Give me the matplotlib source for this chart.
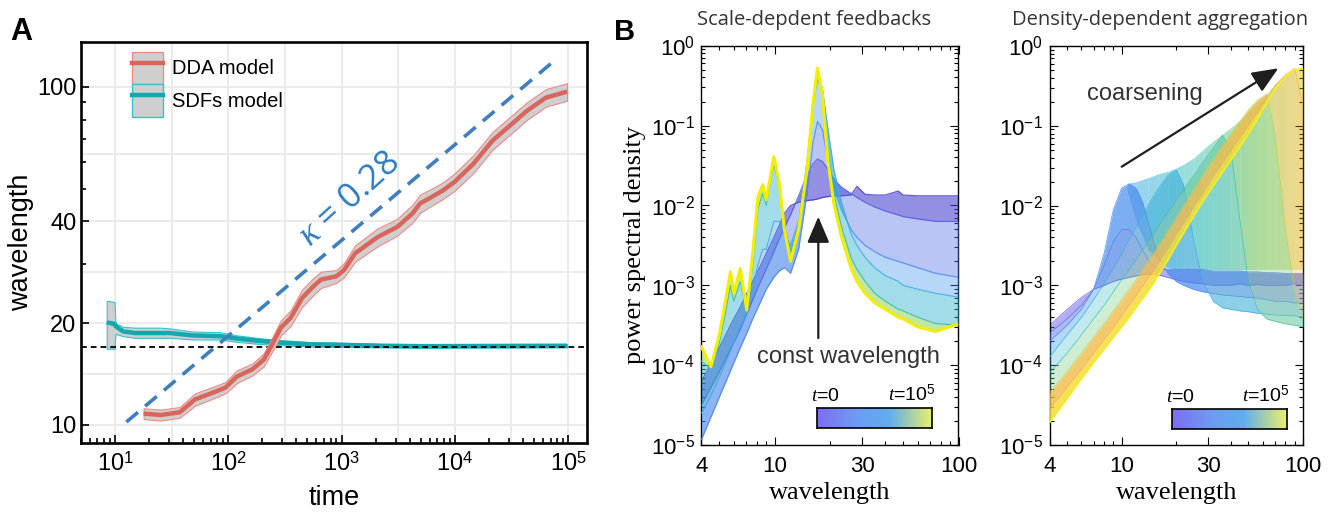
import numpy as np
import matplotlib
matplotlib.use('Agg')
import matplotlib.pyplot as plt
from matplotlib.colors import LinearSegmentedColormap
from matplotlib.patches import Patch, FancyArrowPatch
from matplotlib.lines import Line2D
from matplotlib.ticker import FixedLocator, FixedFormatter, NullFormatter

W, H = 1336, 512

# ---- panel A: wavelength vs time ----
dda_t = [17.9, 25.4, 37.3, 50.9, 75, 94.6, 119, 163, 206, 240, 292, 354, 447, 564, 658,
         897, 1050, 1320, 2100, 3100, 4230, 4940, 6240, 7870, 9930, 14600, 21500, 31800,
         43300, 63800, 98000]
dda_mid = [10.8, 10.7, 10.9, 11.9, 12.5, 12.9, 13.9, 14.6, 15.6, 17.1, 19.4, 20.7, 23.7, 25.7,
           26.9, 27.5, 28.7, 32.2, 36.0, 38.5, 42.2, 45.2, 47.2, 49.4, 52.3, 59.2, 69.3, 77.6,
           84.9, 92.9, 96.8]
dda_lo = [10.4, 10.3, 10.5, 11.4, 12.0, 12.4, 13.3, 14.0, 14.9, 16.3, 18.4, 19.6, 22.3, 24.2,
          25.4, 26.3, 27.3, 30.4, 33.8, 36.3, 39.6, 42.4, 44.5, 46.6, 49.2, 55.6, 65.1, 72.9,
          79.8, 87.4, 91.0]
dda_hi = [11.2, 11.1, 11.3, 12.4, 13.0, 13.4, 14.5, 15.2, 16.3, 17.9, 20.4, 21.8, 25.1, 27.2,
          28.4, 28.7, 30.1, 34.0, 38.2, 40.7, 44.8, 48.0, 50.0, 52.2, 55.4, 62.8, 73.5, 82.3,
          90.0, 98.5, 102.5]

sdf_t = [8.45, 9.9, 10.1, 11.8, 15, 25, 30.5, 48, 84.5, 120, 191, 300, 525, 1000, 2300, 5000, 98000]
sdf_mid = [20.1, 19.9, 19.6, 18.9, 18.7, 18.7, 18.7, 18.4, 18.3, 18.0, 17.7, 17.5, 17.3, 17.25,
           17.15, 17.1, 17.15]
sdf_lo = [16.8, 16.8, 18.6, 18.3, 18.1, 18.1, 18.1, 17.9, 17.9, 17.6, 17.35, 17.2, 17.05, 17.0,
          16.95, 16.9, 16.95]
sdf_hi = [23.3, 23.1, 20.0, 19.5, 19.4, 19.4, 19.3, 18.9, 18.8, 18.4, 18.05, 17.8, 17.6, 17.5,
          17.35, 17.3, 17.35]

fit_t = [12.6, 80500]
fit_wl = [10.2, 121.6]
fit_kappa = 0.28
const_wl = 17.0

# ---- panel B: spectra snapshots, log10 of power ----
sdf_grid = [4, 4.5, 5, 5.4, 5.75, 6.0, 6.5, 7.05, 7.6, 8.1, 8.6, 9.0, 9.9, 10.6, 11.3, 12.2,
            13.5, 15, 16.2, 17.1, 18.2, 19.5, 21, 23, 26, 28, 31, 35, 40, 47, 50, 60, 75, 100]
sdf_spectra = [
    [-4.2, -3.98, -3.78, -3.63, -3.5, -3.42, -3.27, -3.1, -2.95, -2.82, -2.7, -2.6, -2.4, -2.25,
     -2.1, -2.0, -1.96, -1.94, -1.93, -1.92, -1.9, -1.89, -1.88, -1.88, -1.87, -1.76, -1.86,
     -1.87, -1.87, -1.82, -1.87, -1.88, -1.88, -1.88],
    [-4.5, -4.28, -4.08, -3.93, -3.8, -3.72, -3.55, -3.36, -3.18, -3.03, -2.9, -2.8, -2.58, -2.42,
     -2.28, -2.12, -1.88, -1.62, -1.48, -1.42, -1.45, -1.55, -1.67, -1.77, -1.85, -1.9, -1.96,
     -2.02, -2.07, -2.12, -2.14, -2.17, -2.2, -2.2],
    [-4.93, -4.65, -4.4, -4.22, -4.07, -3.97, -3.78, -3.6, -3.42, -3.28, -3.15, -3.05, -2.9, -2.82,
     -2.78, -2.85, -2.55, -1.85, -1.2, -0.95, -1.05, -1.45, -1.78, -2.05, -2.3, -2.4, -2.5,
     -2.58, -2.65, -2.7, -2.72, -2.78, -2.85, -2.9],
    [-4.6, -4.38, -4.15, -3.98, -3.82, -3.72, -3.52, -3.35, -3.05, -2.75, -2.55, -2.55, -2.2, -2.2,
     -2.35, -2.5, -2.2, -1.45, -0.75, -0.42, -0.55, -1.05, -1.55, -1.95, -2.35, -2.5, -2.65,
     -2.78, -2.88, -2.95, -3.0, -3.05, -3.1, -3.15],
    [-3.95, -4.05, -3.72, -3.35, -3.0, -3.2, -2.95, -3.35, -2.75, -2.05, -1.85, -2.0, -1.48, -1.75,
     -2.25, -2.6, -2.25, -1.5, -0.75, -0.32, -0.55, -1.3, -1.85, -2.25, -2.65, -2.8, -2.95,
     -3.1, -3.2, -3.3, -3.32, -3.4, -3.48, -3.5],
    [-3.77, -4.02, -3.62, -3.2, -2.83, -3.1, -2.79, -3.31, -2.6, -1.9, -1.74, -1.93, -1.39, -1.72,
     -2.3, -2.7, -2.3, -1.55, -0.7, -0.28, -0.62, -1.45, -1.98, -2.38, -2.78, -2.95, -3.1,
     -3.22, -3.3, -3.4, -3.42, -3.52, -3.58, -3.48],
]
sdf_colors = ['#4434c4', '#5256e0', '#4c84f0', '#3aa8ec', '#2bbcb0', '#f2ee00']
sdf_fill = ['#4c46d2', '#5070e8', '#4496ee', '#32b2ce', '#8ed458']
sdf_alpha = [0.6, 0.4, 0.38, 0.45, 0.55]

dda_grid = [4, 5, 6, 7, 8, 9, 10, 11, 12, 13, 14, 15, 16, 18, 20, 22, 25, 28, 32, 36, 40, 45,
            50, 56, 63, 70, 80, 90, 100]
dda_spectra = [
    [-3.5, -3.3, -3.15, -3.05, -3.0, -2.95, -2.92, -2.9, -2.88, -2.87, -2.86, -2.86, -2.87, -2.9,
     -2.93, -2.95, -2.97, -2.98, -3.0, -3.0, -3.0, -2.98, -3.0, -2.99, -3.0, -3.0, -3.0, -2.98, -3.0],
    [-3.6, -3.42, -3.25, -3.05, -2.75, -2.45, -2.3, -2.3, -2.4, -2.55, -2.68, -2.76, -2.8, -2.8,
     -2.8, -2.8, -2.8, -2.8, -2.82, -2.82, -2.82, -2.82, -2.83, -2.83, -2.84, -2.84, -2.85, -2.85, -2.85],
    [-3.7, -3.5, -3.3, -3.05, -2.6, -2.05, -1.78, -1.73, -1.78, -1.95, -2.2, -2.45, -2.65, -2.85,
     -2.95, -3.0, -3.05, -3.08, -3.1, -3.12, -3.13, -3.14, -3.15, -3.16, -3.18, -3.2, -3.2, -3.22, -3.22],
    [-3.9, -3.62, -3.4, -3.18, -2.98, -2.78, -2.6, -2.42, -2.27, -2.12, -2.0, -1.88, -1.78, -1.62,
     -1.55, -1.75, -2.45, -2.95, -3.2, -3.28, -3.3, -3.32, -3.33, -3.35, -3.36, -3.37, -3.38, -3.38, -3.4],
    [-4.1, -3.85, -3.62, -3.42, -3.25, -3.08, -2.93, -2.8, -2.68, -2.56, -2.45, -2.35, -2.25, -2.08,
     -1.93, -1.8, -1.62, -1.46, -1.28, -1.12, -1.3, -2.2, -2.95, -3.3, -3.42, -3.45, -3.48, -3.5, -3.52],
    [-4.35, -4.08, -3.85, -3.65, -3.48, -3.32, -3.18, -3.05, -2.93, -2.81, -2.7, -2.6, -2.5, -2.32,
     -2.15, -2.0, -1.8, -1.62, -1.42, -1.25, -1.1, -0.94, -0.8, -0.68, -0.6, -1.1, -2.3, -3.1, -3.4],
    [-4.55, -4.28, -4.05, -3.85, -3.68, -3.53, -3.38, -3.25, -3.13, -3.02, -2.91, -2.81, -2.71, -2.53,
     -2.36, -2.21, -2.01, -1.84, -1.63, -1.46, -1.31, -1.14, -0.99, -0.83, -0.66, -0.5, -0.36, -0.28, -0.75],
    [-4.72, -4.42, -4.17, -3.97, -3.8, -3.65, -3.52, -3.4, -3.28, -3.17, -3.07, -2.97, -2.87, -2.68,
     -2.5, -2.34, -2.13, -1.95, -1.75, -1.58, -1.43, -1.26, -1.1, -0.92, -0.72, -0.55, -0.38, -0.3, -0.28],
]
dda_colors = ['#6a54dc', '#5f64ea', '#4b86f2', '#33b2e6', '#3ec4a4', '#b6d84e', '#f3b24e', '#f4ee22']
dda_fill = ['#6460e4', '#5478ee', '#3f9cec', '#38bcc8', '#78cc80', '#f2bc4a', '#f5dc38']
dda_alpha = [0.5, 0.5, 0.4, 0.3, 0.35, 0.8, 0.85]

# upper edge of the hatched region swept by the moving peak, and its floor
dda_env_grid = [10.7, 12, 14, 16, 18, 20, 22, 25, 28, 32, 36, 40, 45, 50, 56, 63, 70, 80, 90, 100]
dda_env_top = [-1.72, -1.7, -1.65, -1.6, -1.57, -1.53, -1.48, -1.4, -1.3, -1.19, -1.1, -1.02,
               -0.93, -0.83, -0.73, -0.6, -0.47, -0.36, -0.29, -0.28]
dda_env_floor = [-1.8, -2.2, -2.55, -2.7, -2.78, -2.8, -2.8, -2.8, -2.8, -2.8, -2.8, -2.8,
                 -2.8, -2.8, -2.8, -2.8, -2.8, -2.8, -2.8, -2.8]

RED = '#d9655c'
RED_EDGE = '#f28a84'
TEAL = '#13a7ae'
TEAL_EDGE = '#2cc6cf'
BAND = '#cfcfcf'
BLUE = '#3f7fbf'

plt.rcParams['font.family'] = ['Liberation Sans', 'DejaVu Sans']
plt.rcParams['mathtext.fontset'] = 'custom'
plt.rcParams['mathtext.rm'] = 'Liberation Sans'
plt.rcParams['mathtext.it'] = 'Liberation Serif:italic'
plt.rcParams['mathtext.bf'] = 'Liberation Sans:bold'


def rect(l, t, r, b):
    return [l / W, 1 - b / H, (r - l) / W, (b - t) / H]


def fx(x):
    return x / W


def fy(y):
    return 1 - y / H


def panel_a(fig):
    ax = fig.add_axes(rect(80.7, 41.7, 587, 442.7))
    ax.set_xscale('log')
    ax.set_yscale('log')
    ax.set_xlim(4.98, 1.47e5)
    ax.set_ylim(8.86, 136)

    # light grid at decades and half decades
    for e in np.arange(1, 5.01, 0.5):
        ax.axvline(10 ** e, color='#e9e9e9', lw=1.3, zorder=0)
    for v in [10, 14.14, 20, 28.28, 40, 63.25, 100]:
        ax.axhline(v, color='#e9e9e9', lw=1.3, zorder=0)

    ax.fill_between(sdf_t, sdf_lo, sdf_hi, facecolor=BAND, edgecolor=TEAL_EDGE, lw=0.8, zorder=2)
    ax.plot(sdf_t, sdf_mid, color=TEAL, lw=3.2, zorder=3, solid_capstyle='butt')
    ax.fill_between(dda_t, dda_lo, dda_hi, facecolor=BAND, edgecolor=RED_EDGE, lw=0.8, zorder=4)
    ax.plot(dda_t, dda_mid, color=RED, lw=3.2, zorder=5, solid_capstyle='butt')

    ax.axhline(const_wl, color='k', lw=1.3, ls=(0, (3.2, 2.2)), zorder=3.5)
    ax.plot(fit_t, fit_wl, color=BLUE, lw=2.6, ls=(0, (4.2, 2.6)), zorder=6)

    fig.text(fx(350), fy(199), r'$\kappa$ = %.2f' % fit_kappa, rotation=42, color='#2c7bc4',
             fontsize=25, ha='center', va='center', family='Open Sans', rotation_mode='anchor')

    # legend: grey band with the coloured line on top
    handles = [(Patch(facecolor=BAND, edgecolor=RED_EDGE, lw=1), Line2D([], [], color=RED, lw=3.2)),
               (Patch(facecolor=BAND, edgecolor=TEAL_EDGE, lw=1), Line2D([], [], color=TEAL, lw=3.2))]
    ax.legend(handles, ['DDA model', 'SDFs model'], loc='upper left',
              bbox_to_anchor=((132.4 - 80.7) / 506.3, 1 - (51.7 - 41.7) / 401.0),
              frameon=False, fontsize=14.5, handlelength=1.5, handleheight=2.1,
              handletextpad=0.45, labelspacing=0.0, borderpad=0, borderaxespad=0)

    ax.xaxis.set_major_locator(FixedLocator([10, 100, 1e3, 1e4, 1e5]))
    ax.xaxis.set_major_formatter(FixedFormatter([r'$10^{1}$', r'$10^{2}$', r'$10^{3}$',
                                                 r'$10^{4}$', r'$10^{5}$']))
    ax.xaxis.set_minor_locator(FixedLocator([k * 10 ** e for e in range(0, 5) for k in range(2, 10)]))
    ax.xaxis.set_minor_formatter(NullFormatter())
    ax.yaxis.set_major_locator(FixedLocator([10, 20, 40, 100]))
    ax.yaxis.set_major_formatter(FixedFormatter(['10', '20', '40', '100']))
    ax.yaxis.set_minor_locator(FixedLocator([30, 50, 60, 70, 80, 90]))
    ax.yaxis.set_minor_formatter(NullFormatter())
    ax.tick_params(which='both', direction='in', width=1.2, labelsize=17)
    ax.tick_params(which='major', length=6)
    ax.tick_params(which='minor', length=3.5)
    ax.tick_params(axis='x', pad=7)
    ax.tick_params(axis='y', pad=3)
    for s in ax.spines.values():
        s.set_linewidth(1.9)

    fig.text(fx(334), fy(505), 'time', ha='center', va='baseline', fontsize=19.5)
    fig.text(fx(21), fy(242), 'wavelength', ha='center', va='center', rotation=90, fontsize=19.5)
    fig.text(fx(21.5), fy(40), 'A', ha='center', va='baseline', fontsize=22, weight='bold')


def spectra(fig, box, grid, snaps, colors, fills, alphas, line_w, final_lw, thin_above=None):
    ax = fig.add_axes(rect(*box))
    ax.set_xscale('log')
    ax.set_yscale('log')
    g = np.array(grid)
    n = len(snaps)
    for i in range(n - 1):
        lo = 10 ** np.array(snaps[i])
        hi = 10 ** np.array(snaps[i + 1])
        if thin_above is not None and alphas[i] > 0.6:
            # dense late curves only near the band, lighter where they fall off
            ax.fill_between(g, lo, hi, where=g <= thin_above, color=fills[i], alpha=alphas[i],
                            lw=0, zorder=2 + i)
            ax.fill_between(g, lo, hi, where=g >= thin_above, color=fills[i], alpha=0.3,
                            lw=0, zorder=2 + i)
        else:
            ax.fill_between(g, lo, hi, color=fills[i], alpha=alphas[i], lw=0, zorder=2 + i)
        ax.plot(g, lo, color=colors[i], lw=line_w, alpha=0.8, zorder=2.5 + i)
    ax.plot(g, 10 ** np.array(snaps[-1]), color=colors[-1], lw=final_lw, zorder=n + 3)

    ax.set_xlim(4, 100)
    ax.set_ylim(1e-5, 1)
    ax.xaxis.set_major_locator(FixedLocator([4, 10, 30, 100]))
    ax.xaxis.set_major_formatter(FixedFormatter(['4', '10', '30', '100']))
    ax.xaxis.set_minor_locator(FixedLocator([5, 6, 7, 8, 9, 20, 40, 50, 60, 70, 80, 90]))
    ax.xaxis.set_minor_formatter(NullFormatter())
    ax.yaxis.set_major_locator(FixedLocator([1e-5, 1e-4, 1e-3, 1e-2, 1e-1, 1]))
    ax.yaxis.set_major_formatter(FixedFormatter([r'$10^{-5}$', r'$10^{-4}$', r'$10^{-3}$',
                                                 r'$10^{-2}$', r'$10^{-1}$', r'$10^{0}$']))
    ax.yaxis.set_minor_locator(FixedLocator([k * 10.0 ** e for e in range(-5, 0) for k in range(2, 10)]))
    ax.yaxis.set_minor_formatter(NullFormatter())
    ax.tick_params(which='both', direction='in', top=True, right=True, width=0.8, labelsize=16)
    ax.tick_params(which='major', length=5.5)
    ax.tick_params(which='minor', length=3)
    ax.tick_params(axis='x', pad=8)
    ax.tick_params(axis='y', pad=5)
    for s in ax.spines.values():
        s.set_linewidth(1.0)
    return ax


def hatch_region(ax):
    # colour of the swept region follows the peak position, i.e. time
    cmap = LinearSegmentedColormap.from_list('sweep', ['#48a8f0', '#38c0c8', '#5cc8a8',
                                                       '#9ed070', '#e2d060'])
    lg = np.log10(dda_env_grid)
    pos = (lg - lg[0]) / (lg[-1] - lg[0])
    for i in range(len(dda_env_grid) - 1):
        ax.fill_between(dda_env_grid[i:i + 2], 10 ** np.array(dda_env_floor[i:i + 2]),
                        10 ** np.array(dda_env_top[i:i + 2]),
                        color=cmap((pos[i] + pos[i + 1]) / 2), alpha=0.55, lw=0, zorder=1)


def time_bar(fig, l, t, r, b):
    cmap = LinearSegmentedColormap.from_list('tbar', [(0, '#7d6ef3'), (0.35, '#6e9cf2'),
                                                      (0.62, '#60adee'), (1, '#ecf06a')])
    cax = fig.add_axes(rect(l, t, r, b))
    cax.imshow(np.linspace(0, 1, 256)[None, :], aspect='auto', cmap=cmap, extent=[0, 1, 0, 1])
    cax.set_xticks([])
    cax.set_yticks([])
    for s in cax.spines.values():
        s.set_linewidth(1.2)
    fig.text(fx(l - 6), fy(t - 7), r'$t$=0', ha='left', va='baseline', fontsize=14)
    fig.text(fx(r + 3), fy(t - 7), r'$t$=10$^5$', ha='right', va='baseline', fontsize=14)


def main():
    fig = plt.figure(figsize=(W / 100, H / 100), dpi=100)

    panel_a(fig)

    spectra(fig, (701.5, 45.7, 958.5, 445), sdf_grid, sdf_spectra, sdf_colors, sdf_fill,
            sdf_alpha, 0.9, 2.2)
    ax_r = spectra(fig, (1049.5, 46, 1303, 445), dda_grid, dda_spectra, dda_colors, dda_fill,
                   dda_alpha, 0.6, 1.2, thin_above=63)
    hatch_region(ax_r)

    time_bar(fig, 816.7, 408.3, 932.3, 428.3)
    time_bar(fig, 1171.7, 409.3, 1286.7, 429)

    fig.text(fx(814), fy(25), 'Scale-depdent feedbacks', ha='center', va='baseline',
             family='Open Sans', fontsize=14.5, color='#333333')
    fig.text(fx(1160), fy(25), 'Density-dependent aggregation', ha='center', va='baseline',
             family='Open Sans', fontsize=14.5, color='#333333')
    fig.text(fx(635), fy(245), 'power spectral density', ha='center', va='center', rotation=90,
             family='Liberation Serif', fontsize=19)
    fig.text(fx(830), fy(499), 'wavelength', ha='center', va='baseline',
             family='Liberation Serif', fontsize=19)
    fig.text(fx(1177), fy(499), 'wavelength', ha='center', va='baseline',
             family='Liberation Serif', fontsize=19)
    fig.text(fx(625), fy(40), 'B', ha='center', va='baseline', fontsize=21, weight='bold')

    fig.text(fx(848), fy(363), 'const wavelength', ha='center', va='baseline', fontsize=17,
             color='#333333')
    fig.text(fx(1145), fy(100), 'coarsening', ha='center', va='baseline', fontsize=17,
             color='#333333')

    arrow = dict(arrowstyle='-|>,head_length=0.8,head_width=0.34', color='#1e1e1e', lw=1.6,
                 mutation_scale=20, shrinkA=0, shrinkB=0)
    fig.add_artist(FancyArrowPatch((fx(818.3), fy(338)), (fx(818.3), fy(216.7)),
                                   transform=fig.transFigure, zorder=20, **arrow))
    fig.add_artist(FancyArrowPatch((fx(1121.7), fy(166.7)), (fx(1278.3), fy(68.3)),
                                   transform=fig.transFigure, zorder=20, **arrow))

    fig.savefig('out.png', dpi=100)


if __name__ == '__main__':
    main()
